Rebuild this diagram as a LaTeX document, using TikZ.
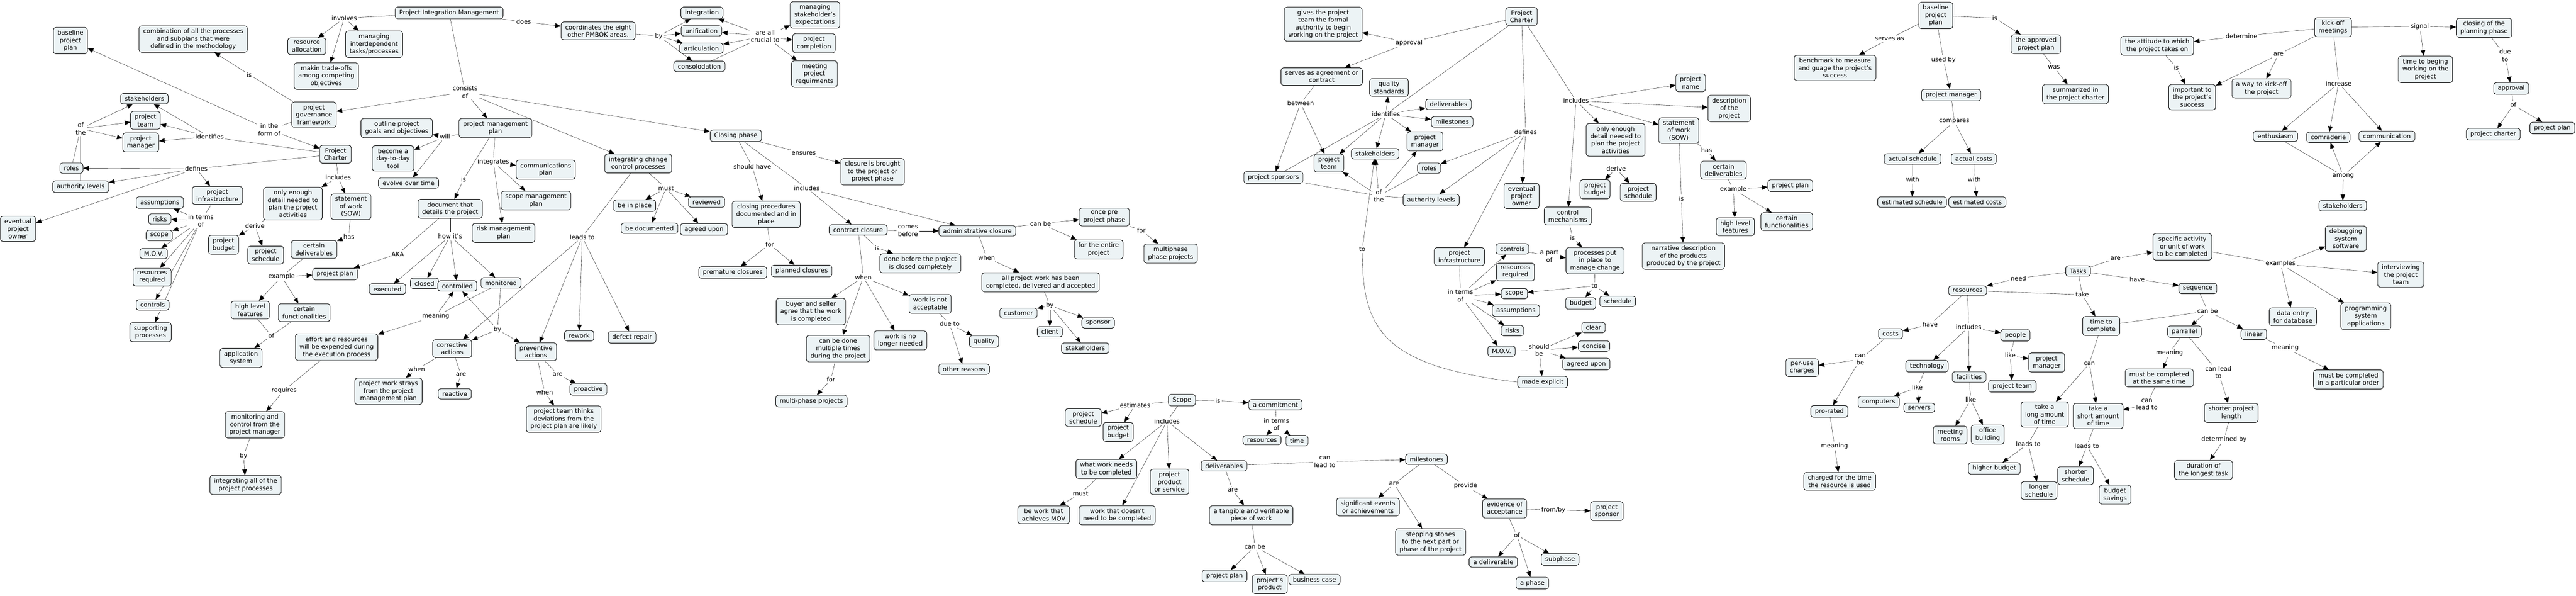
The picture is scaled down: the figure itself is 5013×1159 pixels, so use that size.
\documentclass[tikz,border=0pt]{standalone}
\usepackage{fontspec}
\setmainfont{DejaVu Sans}
\usetikzlibrary{arrows.meta,backgrounds}
\definecolor{cfill}{RGB}{236,243,245}
\tikzset{
  concept/.style={draw,line width=0.9pt,rounded corners=5pt,fill=cfill,align=center,inner xsep=8pt,inner ysep=5.5pt},
  lab/.style={align=center,inner sep=2.5pt},
  arr/.style={-{Triangle[length=11pt,width=9pt]}}
}

\begin{document}
\begin{tikzpicture}[x=1pt,y=-1pt,line width=0.8pt,font=\fontsize{12}{14.5}\selectfont]
  \useasboundingbox (0,0) rectangle (5013,1159);

  % integration management
  \node[concept] (pim) at (874,25) {Project Integration Management};
  \node[lab] (inv) at (670,35) {involves};
  \node[concept] (ra) at (597,90) {resource\\allocation};
  \node[concept] (mit) at (728,86) {managing\\interdependent\\tasks/processes};
  \node[concept] (mto) at (635,148) {makin trade-offs\\among competing\\objectives};
  \node[lab] (does) at (1019,42) {does};
  \node[concept] (coord) at (1164,60) {coordinates the eight\\other PMBOK areas.};
  \node[lab] (byone) at (1282,70) {by};
  \node[concept] (integ) at (1366,25) {integration};
  \node[concept] (unif) at (1365,60) {unification};
  \node[concept] (artic) at (1365,94) {articulation};
  \node[concept] (conso) at (1361,129) {consolodation};
  \node[lab] (crucial) at (1489,70) {are all\\crucial to};
  \node[concept] (msx) at (1586,29) {managing\\stakeholder's\\expectations};
  \node[concept] (pcomp) at (1584,84) {project\\completion};
  \node[concept] (mpr) at (1585,144) {meeting\\project\\requirments};
  \node[lab] (cons) at (905,179) {consists\\of};

  % governance and charter
  \node[concept] (pgf) at (611,223) {project\\governance\\framework};
  \node[lab] (isa) at (485,145) {is};
  \node[concept] (comb) at (376,76) {combination of all the processes\\and subplans that were\\defined in the methodology};
  \node[lab] (inform) at (524,252) {in the\\form of};
  \node[concept] (bppa) at (137,79) {baseline\\project\\plan};
  \node[concept] (pca) at (653,300) {Project\\Charter};
  \node[lab] (ida) at (408,266) {identifies};
  \node[concept] (sta) at (281,192) {stakeholders};
  \node[concept] (pta) at (283,234) {project\\team};
  \node[concept] (pma) at (274,277) {project\\manager};
  \node[lab] (ofa) at (157,250) {of\\the};
  \node[concept] (rolesa) at (139,327) {roles};
  \node[concept] (ala) at (157,363) {authority levels};
  \node[lab] (defa) at (382,328) {defines};
  \node[concept] (epoa) at (35,445) {eventual\\project\\owner};
  \node[concept] (pia) at (423,380) {project\\infrastructure};
  \node[lab] (itma) at (391,429) {in terms\\of};
  \node[concept] (asa) at (311,394) {assumptions};
  \node[concept] (riska) at (311,426) {risks};
  \node[concept] (scopea) at (310,458) {scope};
  \node[concept] (mova) at (299,493) {M.O.V.};
  \node[concept] (rra) at (296,539) {resources\\required};
  \node[concept] (ctla) at (297,593) {controls};
  \node[concept] (supp) at (293,646) {supporting\\processes};
  \node[lab] (inca) at (658,345) {includes};
  \node[concept] (oea) at (570,396) {only enough\\detail needed to\\plan the project\\activities};
  \node[concept] (sowa) at (683,402) {statement\\of work\\(SOW)};
  \node[lab] (dera) at (496,439) {derive};
  \node[concept] (pba) at (435,476) {project\\budget};
  \node[concept] (psa) at (517,496) {project\\schedule};
  \node[lab] (hasa) at (679,460) {has};
  \node[concept] (cda) at (611,485) {certain\\deliverables};
  \node[lab] (exa) at (548,538) {example};
  \node[concept] (ppa) at (652,533) {project plan};
  \node[concept] (hlfa) at (487,603) {high level\\features};
  \node[concept] (cfa) at (592,608) {certain\\functionalities};
  \node[lab] (ofb) at (528,653) {of};
  \node[concept] (app) at (469,696) {application\\system};

  % project management plan
  \node[concept] (pmp) at (964,249) {project management\\plan};
  \node[lab] (will) at (866,266) {will};
  \node[concept] (opg) at (772,249) {outline project\\goals and objectives};
  \node[concept] (become) at (765,308) {become a\\day-to-day\\tool};
  \node[concept] (evolve) at (795,356) {evolve over time};
  \node[lab] (intg) at (960,315) {integrates};
  \node[concept] (comm) at (1062,330) {communications\\plan};
  \node[concept] (smp) at (1043,390) {scope management\\plan};
  \node[concept] (rmp) at (980,453) {risk management\\plan};
  \node[lab] (isb) at (902,349) {is};
  \node[concept] (dtd) at (876,406) {document that\\details the project};
  \node[lab] (howit) at (876,459) {how it's};
  \node[lab] (aka) at (774,494) {AKA};
  \node[concept] (exe) at (754,562) {executed};
  \node[concept] (clo) at (826,551) {closed};
  \node[concept] (ctrd) at (890,556) {controlled};
  \node[concept] (mont) at (975,550) {monitored};
  \node[lab] (mean) at (848,615) {meaning};
  \node[concept] (eff) at (655,675) {effort and resources\\will be expended during\\the execution process};
  \node[lab] (req) at (553,759) {requires};
  \node[concept] (mon) at (496,826) {monitoring and\\control from the\\project manager};
  \node[lab] (byb) at (474,886) {by};
  \node[concept] (iap) at (478,943) {integrating all of the\\project processes};
  \node[lab] (byc) at (968,641) {by};
  \node[concept] (corr) at (880,678) {corrective\\actions};
  \node[concept] (prev) at (1043,684) {preventive\\actions};
  \node[concept] (rew) at (1127,653) {rework};
  \node[concept] (defr) at (1230,656) {defect repair};
  \node[lab] (area) at (897,728) {are};
  \node[concept] (reac) at (885,766) {reactive};
  \node[lab] (areb) at (1085,728) {are};
  \node[concept] (proa) at (1145,757) {proactive};
  \node[lab] (whena) at (811,718) {when};
  \node[concept] (pws) at (756,761) {project work strays\\from the project\\management plan};
  \node[lab] (whenb) at (1060,763) {when};
  \node[concept] (ptt) at (1097,815) {project team thinks\\deviations from the\\project plan are likely};

  % change control and closing
  \node[concept] (icc) at (1242,318) {integrating change\\control processes};
  \node[lab] (must) at (1296,366) {must};
  \node[concept] (bip) at (1235,400) {be in place};
  \node[concept] (rev) at (1375,393) {reviewed};
  \node[concept] (bdoc) at (1264,444) {be documented};
  \node[concept] (aua) at (1370,446) {agreed upon};
  \node[lab] (leads) at (1133,461) {leads to};
  \node[concept] (cph) at (1432,264) {Closing phase};
  \node[lab] (ens) at (1564,298) {ensures};
  \node[concept] (cbr) at (1698,334) {closure is brought\\to the project or\\project phase};
  \node[lab] (shv) at (1464,324) {should have};
  \node[lab] (incb) at (1570,366) {includes};
  \node[concept] (cpd) at (1491,417) {closing procedures\\documented and in\\place};
  \node[lab] (forc) at (1498,475) {for};
  \node[concept] (prem) at (1426,530) {premature closures};
  \node[concept] (planc) at (1560,527) {planned closures};
  \node[concept] (cc) at (1670,447) {contract closure};
  \node[lab] (comesb) at (1767,449) {comes\\before};
  \node[concept] (adm) at (1902,449) {administrative closure};
  \node[lab] (isc) at (1707,482) {is};
  \node[concept] (dbp) at (1791,512) {done before the project\\is closed completely};
  \node[lab] (whenc) at (1680,539) {when};
  \node[concept] (bas) at (1578,606) {buyer and seller\\agree that the work\\is completed};
  \node[concept] (cbd) at (1631,678) {can be done\\multiple times\\during the project};
  \node[lab] (ford) at (1617,738) {for};
  \node[concept] (mpp) at (1579,780) {multi-phase projects};
  \node[concept] (wnl) at (1752,662) {work is no\\longer needed};
  \node[concept] (wna) at (1810,591) {work is not\\acceptable};
  \node[lab] (due) at (1848,630) {due to};
  \node[concept] (qual) at (1915,664) {quality};
  \node[concept] (oth) at (1876,718) {other reasons};
  \node[lab] (canb) at (2025,435) {can be};
  \node[concept] (opp) at (2149,422) {once pre\\project phase};
  \node[concept] (fte) at (2138,485) {for the entire\\project};
  \node[lab] (fore) at (2221,448) {for};
  \node[concept] (mphp) at (2278,493) {multiphase\\phase projects};
  \node[lab] (whend) at (1920,501) {when};
  \node[concept] (apw) at (2025,549) {all project work has been\\completed, delivered and accepted};
  \node[lab] (byd) at (2043,594) {by};
  \node[concept] (cust) at (1982,609) {customer};
  \node[concept] (client) at (2043,645) {client};
  \node[concept] (spon) at (2137,628) {sponsor};
  \node[concept] (stb) at (2112,677) {stakeholders};

  % scope
  \node[concept] (scope) at (2300,778) {Scope};
  \node[lab] (isd) at (2370,779) {is};
  \node[concept] (commit) at (2482,787) {a commitment};
  \node[lab] (itmb) at (2484,825) {in terms\\of};
  \node[concept] (res) at (2456,856) {resources};
  \node[concept] (time) at (2524,857) {time};
  \node[lab] (est) at (2209,788) {estimates};
  \node[concept] (psb) at (2108,812) {project\\schedule};
  \node[concept] (pbb) at (2176,840) {project\\budget};
  \node[lab] (incc) at (2271,819) {includes};
  \node[concept] (wwn) at (2153,912) {what work needs\\to be completed};
  \node[concept] (pps) at (2276,937) {project\\product\\or service};
  \node[concept] (delb) at (2382,906) {deliverables};
  \node[lab] (mustb) at (2103,960) {must};
  \node[concept] (bwa) at (2031,1001) {be work that\\achieves MOV};
  \node[concept] (wdn) at (2174,1002) {work that doesn't\\need to be completed};
  \node[lab] (arec) at (2399,953) {are};
  \node[concept] (tang) at (2435,1002) {a tangible and verifiable\\piece of work};
  \node[lab] (canc) at (2442,1063) {can be};
  \node[concept] (ppb) at (2383,1120) {project plan};
  \node[concept] (prod) at (2471,1136) {project's\\product};
  \node[concept] (bcase) at (2558,1127) {business case};
  \node[lab] (cltb) at (2578,898) {can\\lead to};
  \node[concept] (msb) at (2776,893) {milestones};
  \node[lab] (ared) at (2713,941) {are};
  \node[lab] (prov) at (2852,945) {provide};
  \node[concept] (sig) at (2662,986) {significant events\\or achievements};
  \node[concept] (stepst) at (2784,1054) {stepping stones\\to the next part or\\phase of the project};
  \node[concept] (eva) at (2928,989) {evidence of\\acceptance};
  \node[lab] (fromby) at (3023,992) {from/by};
  \node[concept] (pspb) at (3127,994) {project\\sponsor};
  \node[lab] (ofc) at (2952,1041) {of};
  \node[concept] (adel) at (2906,1093) {a deliverable};
  \node[concept] (subph) at (3036,1088) {subphase};
  \node[concept] (aph) at (2982,1134) {a phase};

  % second project charter
  \node[concept] (gives) at (2575,47) {gives the project\\team the formal\\authority to begin\\working on the project};
  \node[concept] (pcb) at (2961,32) {Project\\Charter};
  \node[lab] (appr) at (2742,83) {approval};
  \node[concept] (sag) at (2572,149) {serves as agreement or\\contract};
  \node[lab] (betw) at (2531,201) {between};
  \node[concept] (qs) at (2703,170) {quality\\standards};
  \node[lab] (idb) at (2697,222) {identifies};
  \node[concept] (delc) at (2819,203) {deliverables};
  \node[concept] (msc) at (2826,237) {milestones};
  \node[concept] (pmb) at (2773,275) {project\\manager};
  \node[concept] (stc) at (2676,299) {stakeholders};
  \node[concept] (ptb) at (2586,317) {project\\team};
  \node[concept] (psp) at (2478,345) {project sponsors};
  \node[concept] (rolesb) at (2781,327) {roles};
  \node[concept] (alb) at (2785,389) {authority levels};
  \node[lab] (ofd) at (2683,381) {of\\the};
  \node[lab] (defb) at (2969,257) {defines};
  \node[concept] (epob) at (2961,381) {eventual\\project\\owner};
  \node[concept] (pib) at (2840,499) {project\\infrastructure};
  \node[lab] (incd) at (3067,196) {includes};
  \node[concept] (pname) at (3290,161) {project\\name};
  \node[concept] (desc) at (3365,211) {description\\of the\\project};
  \node[concept] (oeb) at (3144,272) {only enough\\detail needed to\\plan the project\\activities};
  \node[concept] (sowb) at (3267,254) {statement\\of work\\(SOW)};
  \node[lab] (derb) at (3145,328) {derive};
  \node[concept] (pbc) at (3104,368) {project\\budget};
  \node[concept] (psc) at (3188,374) {project\\schedule};
  \node[concept] (cm) at (3051,420) {control\\mechanisms};
  \node[lab] (ise) at (3060,462) {is};
  \node[concept] (ppp) at (3104,507) {processes put\\in place to\\manage change};
  \node[concept] (ctlb) at (2943,484) {controls};
  \node[lab] (apart) at (3015,498) {a part\\of};
  \node[concept] (rrb) at (2949,529) {resources\\required};
  \node[lab] (isf) at (3272,386) {is};
  \node[concept] (narr) at (3276,498) {narrative description\\of the products\\produced by the project};
  \node[lab] (toa) at (2651,485) {to};
  \node[lab] (tob) at (3103,556) {to};
  \node[lab] (itmc) at (2842,575) {in terms\\of};
  \node[concept] (scopeb) at (2947,571) {scope};
  \node[concept] (budget) at (3076,590) {budget};
  \node[concept] (sched) at (3148,586) {schedule};
  \node[concept] (asb) at (2950,604) {assumptions};
  \node[concept] (riskb) at (2943,643) {risks};
  \node[concept] (movb) at (2922,683) {M.O.V.};
  \node[lab] (shb) at (2995,681) {should\\be};
  \node[concept] (clear) at (3101,637) {clear};
  \node[concept] (concise) at (3102,673) {concise};
  \node[concept] (aub) at (3087,708) {agreed upon};
  \node[concept] (mexp) at (3002,743) {made explicit};

  % baseline plan
  \node[concept] (bppb) at (3767,30) {baseline\\project\\plan};
  \node[lab] (isg) at (3882,35) {is};
  \node[concept] (tapp) at (3962,86) {the approved\\project plan};
  \node[lab] (was) at (3997,131) {was};
  \node[concept] (summ) at (4039,183) {summarized in\\the project charter};
  \node[lab] (servas) at (3677,75) {serves as};
  \node[concept] (bench) at (3571,132) {benchmark to measure\\and guage the project's\\success};
  \node[lab] (usedby) at (3782,116) {used by};
  \node[concept] (pmc) at (3797,185) {project manager};
  \node[lab] (compa) at (3803,236) {compares};
  \node[concept] (acts) at (3722,309) {actual schedule};
  \node[concept] (actc) at (3841,309) {actual costs};
  \node[lab] (witha) at (3722,349) {with};
  \node[lab] (withb) at (3842,349) {with};
  \node[concept] (ests) at (3721,393) {estimated schedule};
  \node[concept] (estc) at (3848,393) {estimated costs};
  \node[lab] (hasb) at (3321,292) {has};
  \node[concept] (cdb) at (3354,331) {certain\\deliverables};
  \node[lab] (exb) at (3373,368) {example};
  \node[concept] (ppc) at (3484,361) {project plan};
  \node[concept] (hlfb) at (3377,441) {high level\\features};
  \node[concept] (cfb) at (3477,431) {certain\\functionalities};

  % tasks and resources
  \node[concept] (tasks) at (4044,527) {Tasks};
  \node[lab] (need) at (3928,541) {need};
  \node[concept] (resb) at (3829,565) {resources};
  \node[lab] (take) at (4052,573) {take};
  \node[lab] (aree) at (4117,503) {are};
  \node[lab] (havea) at (4159,543) {have};
  \node[lab] (haveb) at (3756,631) {have};
  \node[concept] (costs) at (3679,649) {costs};
  \node[lab] (ince) at (3831,636) {includes};
  \node[concept] (people) at (3922,652) {people};
  \node[concept] (tech) at (3750,712) {technology};
  \node[concept] (fac) at (3832,733) {facilities};
  \node[lab] (likea) at (3912,691) {like};
  \node[concept] (pmd) at (3983,705) {project\\manager};
  \node[concept] (ptc) at (3916,751) {project team};
  \node[lab] (likeb) at (3731,753) {like};
  \node[concept] (cmptr) at (3656,782) {computers};
  \node[concept] (srv) at (3735,793) {servers};
  \node[lab] (likec) at (3835,777) {like};
  \node[concept] (meet) at (3795,846) {meeting\\rooms};
  \node[concept] (office) at (3868,845) {office\\building};
  \node[lab] (cand) at (3620,699) {can\\be};
  \node[concept] (peruse) at (3507,715) {per-use\\charges};
  \node[concept] (prorated) at (3560,800) {pro-rated};
  \node[lab] (meanb) at (3570,867) {meaning};
  \node[concept] (chg) at (3580,936) {charged for the time\\the resource is used};
  \node[concept] (ttc) at (4089,634) {time to\\complete};
  \node[lab] (canl) at (4066,707) {can};
  \node[concept] (tlong) at (3979,806) {take a\\long amount\\of time};
  \node[concept] (tshort) at (4083,809) {take a\\short amount\\of time};
  \node[lab] (lta) at (3947,863) {leads to};
  \node[lab] (ltb) at (4061,867) {leads to};
  \node[concept] (hb) at (3881,911) {higher budget};
  \node[concept] (ls) at (3968,954) {longer\\schedule};
  \node[concept] (ss) at (4039,925) {shorter\\schedule};
  \node[concept] (bs) at (4116,962) {budget\\savings};

  % kick-off meetings
  \node[concept] (kick) at (4540,53) {kick-off\\meetings};
  \node[lab] (det) at (4362,70) {determine};
  \node[concept] (att) at (4198,89) {the attitude to which\\the project takes on};
  \node[lab] (ish) at (4235,131) {is};
  \node[concept] (imp) at (4266,189) {important to\\the project's\\success};
  \node[lab] (aref) at (4434,106) {are};
  \node[concept] (way) at (4401,172) {a way to kick-off\\the project};
  \node[lab] (incr) at (4551,162) {increase};
  \node[concept] (enth) at (4428,265) {enthusiasm};
  \node[concept] (comr) at (4531,267) {comraderie};
  \node[concept] (commu) at (4645,265) {communication};
  \node[lab] (among) at (4560,342) {among};
  \node[concept] (std) at (4559,400) {stakeholders};
  \node[lab] (signal) at (4709,51) {signal};
  \node[concept] (cop) at (4834,54) {closing of the\\planning phase};
  \node[concept] (tbw) at (4720,135) {time to beging\\working on the\\project};
  \node[lab] (dueb) at (4875,108) {due\\to};
  \node[concept] (apprb) at (4887,172) {approval};
  \node[lab] (ofe) at (4891,204) {of};
  \node[concept] (pchb) at (4852,261) {project charter};
  \node[concept] (ppd) at (4967,249) {project plan};

  % task kinds
  \node[concept] (spec) at (4247,480) {specific activity\\or unit of work\\to be completed};
  \node[lab] (exs) at (4438,513) {examples};
  \node[concept] (debug) at (4565,464) {debugging\\system\\software};
  \node[concept] (intv) at (4672,534) {interviewing\\the project\\team};
  \node[concept] (seq) at (4277,561) {sequence};
  \node[lab] (cane) at (4296,605) {can be};
  \node[concept] (par) at (4251,645) {parrallel};
  \node[concept] (lin) at (4386,650) {linear};
  \node[concept] (dent) at (4462,616) {data entry\\for database};
  \node[concept] (prog) at (4604,615) {programming\\system\\applications};
  \node[lab] (meanc) at (4222,686) {meaning};
  \node[concept] (mbs) at (4202,735) {must be completed\\at the same time};
  \node[lab] (cltc) at (4317,724) {can lead\\to};
  \node[lab] (meand) at (4447,676) {meaning};
  \node[concept] (mbo) at (4570,738) {must be completed\\in a particular order};
  \node[concept] (spl) at (4342,803) {shorter project\\length};
  \node[lab] (detb) at (4328,854) {determined by};
  \node[concept] (dur) at (4288,914) {duration of\\the longest task};
  \node[lab] (cltd) at (4178,786) {can\\lead to};

  \begin{pgfonlayer}{background}
    % left part
    \draw (pim) -- (inv);
    \foreach \t in {ra,mit,mto} \draw[arr] (inv) -- (\t);
    \draw (pim) -- (does);
    \draw[arr] (does) -- (coord);
    \draw (coord) -- (byone);
    \foreach \t in {integ,unif,artic,conso} \draw[arr] (byone) -- (\t);
    \draw (conso) -- (crucial);
    \foreach \t in {integ,unif,artic,msx,pcomp,mpr} \draw[arr] (crucial) -- (\t);
    \draw (pim) -- (cons);
    \foreach \t in {pgf,pmp,icc,cph} \draw[arr] (cons) -- (\t);
    \draw (pgf) -- (isa);
    \draw[arr] (isa) -- (comb);
    \draw (pgf) -- (inform);
    \foreach \t in {bppa,pca} \draw[arr] (inform) -- (\t);
    \draw (pca) -- (ida);
    \foreach \t in {sta,pta,pma} \draw[arr] (ida) -- (\t);
    \draw (rolesa) -- (ofa);
    \draw (ala) -- (ofa);
    \foreach \t in {sta,pta,pma} \draw[arr] (ofa) -- (\t);
    \draw (pca) -- (defa);
    \foreach \t in {rolesa,ala,epoa,pia} \draw[arr] (defa) -- (\t);
    \draw (pia) -- (itma);
    \foreach \t in {asa,riska,scopea,mova,rra,ctla,supp} \draw[arr] (itma) -- (\t);
    \draw (pca) -- (inca);
    \foreach \t in {oea,sowa} \draw[arr] (inca) -- (\t);
    \draw (oea) -- (dera);
    \foreach \t in {pba,psa} \draw[arr] (dera) -- (\t);
    \draw (sowa) -- (hasa);
    \draw[arr] (hasa) -- (cda);
    \draw (cda) -- (exa);
    \foreach \t in {ppa,hlfa,cfa} \draw[arr] (exa) -- (\t);
    \draw (hlfa) -- (ofb);
    \draw (cfa) -- (ofb);
    \draw[arr] (ofb) -- (app);
    \draw (pmp) -- (will);
    \foreach \t in {opg,become,evolve} \draw[arr] (will) -- (\t);
    \draw (pmp) -- (intg);
    \foreach \t in {comm,smp,rmp} \draw[arr] (intg) -- (\t);
    \draw (pmp) -- (isb);
    \draw[arr] (isb) -- (dtd);
    \draw (dtd) -- (howit);
    \foreach \t in {exe,clo,ctrd,mont} \draw[arr] (howit) -- (\t);
    \draw (dtd) -- (aka);
    \draw[arr] (aka) -- (ppa);
    \draw (mont) -- (mean);
    \foreach \t in {ctrd,eff} \draw[arr] (mean) -- (\t);
    \draw (mont) -- (byc);
    \foreach \t in {ctrd,corr,prev} \draw[arr] (byc) -- (\t);
    \draw (eff) -- (req);
    \draw[arr] (req) -- (mon);
    \draw (mon) -- (byb);
    \draw[arr] (byb) -- (iap);
    \draw (icc) -- (leads);
    \foreach \t in {corr,prev,rew,defr} \draw[arr] (leads) -- (\t);
    \draw (icc) -- (must);
    \foreach \t in {bip,rev,bdoc,aua} \draw[arr] (must) -- (\t);
    \draw (corr) -- (area);
    \draw[arr] (area) -- (reac);
    \draw (corr) -- (whena);
    \draw[arr] (whena) -- (pws);
    \draw (prev) -- (areb);
    \draw[arr] (areb) -- (proa);
    \draw (prev) -- (whenb);
    \draw[arr] (whenb) -- (ptt);
    % closing
    \draw (cph) -- (ens);
    \draw[arr] (ens) -- (cbr);
    \draw (cph) -- (shv);
    \draw[arr] (shv) -- (cpd);
    \draw (cph) -- (incb);
    \foreach \t in {cc,adm} \draw[arr] (incb) -- (\t);
    \draw (cpd) -- (forc);
    \foreach \t in {prem,planc} \draw[arr] (forc) -- (\t);
    \draw (cc) -- (comesb);
    \draw[arr] (comesb) -- (adm);
    \draw (cc) -- (isc);
    \draw[arr] (isc) -- (dbp);
    \draw (cc) -- (whenc);
    \foreach \t in {bas,cbd,wnl,wna} \draw[arr] (whenc) -- (\t);
    \draw (cbd) -- (ford);
    \draw[arr] (ford) -- (mpp);
    \draw (wna) -- (due);
    \foreach \t in {qual,oth} \draw[arr] (due) -- (\t);
    \draw (adm) -- (canb);
    \foreach \t in {opp,fte} \draw[arr] (canb) -- (\t);
    \draw (opp) -- (fore);
    \draw[arr] (fore) -- (mphp);
    \draw (adm) -- (whend);
    \draw[arr] (whend) -- (apw);
    \draw (apw) -- (byd);
    \foreach \t in {cust,client,spon,stb} \draw[arr] (byd) -- (\t);
    % scope
    \draw (scope) -- (isd);
    \draw[arr] (isd) -- (commit);
    \draw (commit) -- (itmb);
    \foreach \t in {res,time} \draw[arr] (itmb) -- (\t);
    \draw (scope) -- (est);
    \foreach \t in {psb,pbb} \draw[arr] (est) -- (\t);
    \draw (scope) -- (incc);
    \foreach \t in {wwn,wdn,pps,delb} \draw[arr] (incc) -- (\t);
    \draw (wwn) -- (mustb);
    \draw[arr] (mustb) -- (bwa);
    \draw (delb) -- (arec);
    \draw[arr] (arec) -- (tang);
    \draw (tang) -- (canc);
    \foreach \t in {ppb,prod,bcase} \draw[arr] (canc) -- (\t);
    \draw (delb) -- (cltb);
    \draw[arr] (cltb) -- (msb);
    \draw (msb) -- (ared);
    \foreach \t in {sig,stepst} \draw[arr] (ared) -- (\t);
    \draw (msb) -- (prov);
    \draw[arr] (prov) -- (eva);
    \draw (eva) -- (fromby);
    \draw[arr] (fromby) -- (pspb);
    \draw (eva) -- (ofc);
    \foreach \t in {adel,subph,aph} \draw[arr] (ofc) -- (\t);
    % second charter
    \draw (pcb) -- (appr);
    \foreach \t in {gives,sag} \draw[arr] (appr) -- (\t);
    \draw (sag) -- (betw);
    \foreach \t in {psp,ptb} \draw[arr] (betw) -- (\t);
    \draw (pcb) -- (idb);
    \foreach \t in {qs,delc,msc,pmb,stc,ptb} \draw[arr] (idb) -- (\t);
    \draw (idb) -- (psp);
    \draw (rolesb) -- (ofd);
    \draw (alb) -- (ofd);
    \draw (psp) -- (ofd);
    \foreach \t in {ptb,stc,pmb} \draw[arr] (ofd) -- (\t);
    \draw (pcb) -- (defb);
    \foreach \t in {rolesb,alb,epob,pib} \draw[arr] (defb) -- (\t);
    \draw (pcb) -- (incd);
    \foreach \t in {pname,desc,oeb,sowb,cm} \draw[arr] (incd) -- (\t);
    \draw (oeb) -- (derb);
    \foreach \t in {pbc,psc} \draw[arr] (derb) -- (\t);
    \draw (sowb) -- (isf);
    \draw[arr] (isf) -- (narr);
    \draw (sowb) -- (hasb);
    \draw[arr] (hasb) -- (cdb);
    \draw (cdb) -- (exb);
    \foreach \t in {ppc,hlfb,cfb} \draw[arr] (exb) -- (\t);
    \draw (cm) -- (ise);
    \draw[arr] (ise) -- (ppp);
    \draw (ppp) -- (tob);
    \foreach \t in {scopeb,budget,sched} \draw[arr] (tob) -- (\t);
    \draw (ctlb) -- (apart);
    \draw[arr] (apart) -- (ppp);
    \draw (pib) -- (itmc);
    \foreach \t in {ctlb,rrb,scopeb,asb,riskb,movb} \draw[arr] (itmc) -- (\t);
    \draw (movb) -- (shb);
    \foreach \t in {clear,concise,aub,mexp} \draw[arr] (shb) -- (\t);
    \draw (mexp.west) .. controls (2690,712) and (2652,640) .. (toa.south);
    \draw[arr] (toa) -- (stc);
    % baseline plan
    \draw (bppb) -- (isg);
    \draw[arr] (isg) -- (tapp);
    \draw (tapp) -- (was);
    \draw[arr] (was) -- (summ);
    \draw (bppb) -- (servas);
    \draw[arr] (servas) -- (bench);
    \draw (bppb) -- (usedby);
    \draw[arr] (usedby) -- (pmc);
    \draw (pmc) -- (compa);
    \foreach \t in {acts,actc} \draw[arr] (compa) -- (\t);
    \draw (acts) -- (witha);
    \draw[arr] (witha) -- (ests);
    \draw (actc) -- (withb);
    \draw[arr] (withb) -- (estc);
    % tasks
    \draw (tasks) -- (need);
    \draw[arr] (need) -- (resb);
    \draw (tasks) -- (take);
    \draw (resb) -- (take);
    \draw[arr] (take) -- (ttc);
    \draw (tasks) -- (aree);
    \draw[arr] (aree) -- (spec);
    \draw (tasks) -- (havea);
    \draw[arr] (havea) -- (seq);
    \draw (resb) -- (haveb);
    \draw[arr] (haveb) -- (costs);
    \draw (resb) -- (ince);
    \foreach \t in {people,tech,fac} \draw[arr] (ince) -- (\t);
    \draw (people) -- (likea);
    \foreach \t in {pmd,ptc} \draw[arr] (likea) -- (\t);
    \draw (tech) -- (likeb);
    \foreach \t in {cmptr,srv} \draw[arr] (likeb) -- (\t);
    \draw (fac) -- (likec);
    \foreach \t in {meet,office} \draw[arr] (likec) -- (\t);
    \draw (costs) -- (cand);
    \foreach \t in {peruse,prorated} \draw[arr] (cand) -- (\t);
    \draw (prorated) -- (meanb);
    \draw[arr] (meanb) -- (chg);
    \draw (ttc) -- (canl);
    \foreach \t in {tlong,tshort} \draw[arr] (canl) -- (\t);
    \draw (tlong) -- (lta);
    \foreach \t in {hb,ls} \draw[arr] (lta) -- (\t);
    \draw (tshort) -- (ltb);
    \foreach \t in {ss,bs} \draw[arr] (ltb) -- (\t);
    % kick-off
    \draw (kick) -- (det);
    \draw[arr] (det) -- (att);
    \draw (att) -- (ish);
    \draw[arr] (ish) -- (imp);
    \draw (kick) -- (aref);
    \foreach \t in {imp,way} \draw[arr] (aref) -- (\t);
    \draw (kick) -- (incr);
    \foreach \t in {enth,comr,commu} \draw[arr] (incr) -- (\t);
    \draw (enth) -- (among);
    \foreach \t in {comr,commu,std} \draw[arr] (among) -- (\t);
    \draw (kick) -- (signal);
    \foreach \t in {cop,tbw} \draw[arr] (signal) -- (\t);
    \draw (cop) -- (dueb);
    \draw[arr] (dueb) -- (apprb);
    \draw (apprb) -- (ofe);
    \foreach \t in {pchb,ppd} \draw[arr] (ofe) -- (\t);
    \draw (spec) -- (exs);
    \foreach \t in {debug,intv,dent,prog} \draw[arr] (exs) -- (\t);
    \draw (seq) -- (cane);
    \draw (ttc) -- (cane);
    \foreach \t in {par,lin} \draw[arr] (cane) -- (\t);
    \draw (par) -- (meanc);
    \draw[arr] (meanc) -- (mbs);
    \draw (par) -- (cltc);
    \draw[arr] (cltc) -- (spl);
    \draw (lin) -- (meand);
    \draw[arr] (meand) -- (mbo);
    \draw (spl) -- (detb);
    \draw[arr] (detb) -- (dur);
    \draw (mbs) -- (cltd);
    \draw[arr] (cltd) -- (tshort);
  \end{pgfonlayer}
\end{tikzpicture}
\end{document}
